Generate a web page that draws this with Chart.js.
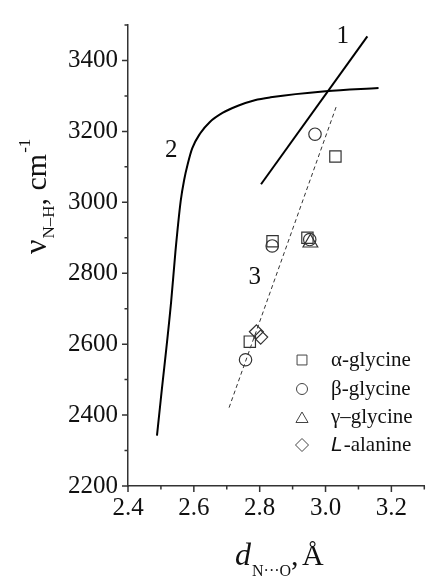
<!DOCTYPE html>
<html>
<head>
<meta charset="utf-8">
<script src="https://cdn.jsdelivr.net/npm/chart.js@4.4.0/dist/chart.umd.min.js"></script>
<style>
html, body { margin: 0; padding: 0; background: #fff; }
</style>
</head>
<body>
<canvas id="graficoNH" width="434" height="576"></canvas>
<script>
// curva 1, 2 (lineas continuas) y 3 (ajuste punteado)
var curva1X = [2.804, 3.127];
var curva1Y = [3051, 3468];
var curva2X = [2.488, 2.499, 2.531, 2.544, 2.560, 2.5705, 2.582, 2.595, 2.619, 2.648, 2.687, 2.736, 2.785, 2.833, 3.000, 3.161];
var curva2Y = [2342, 2439, 2719, 2860, 3003, 3063, 3110, 3152, 3194, 3226, 3252, 3273, 3288, 3296, 3313, 3322];
var curva3X = [2.707, 3.033];
var curva3Y = [2421, 3271];

// puntos experimentales
var alfaX = [2.770, 2.839, 2.945, 3.030];
var alfaY = [2607, 2890, 2900, 3129];
var betaX = [2.757, 2.838, 2.952, 2.968];
var betaY = [2556, 2877, 2895, 3192];
var gammaX = [2.954];
var gammaY = [2886];
var alaninaX = [2.790, 2.803];
var alaninaY = [2635, 2620];

var etiquetasLeyenda = ['α-glycine', 'β-glycine', 'γ–glycine', '-alanine'];
var ticksX = [2.4, 2.6, 2.8, 3.0, 3.2];
var ticksY = [2200, 2400, 2600, 2800, 3000, 3200, 3400];

// numeros de las curvas, en coordenadas de datos
var numCurvas = ['1', '2', '3'];
var numCurvasX = [3.052, 2.531, 2.785];
var numCurvasY = [3468, 3147, 2788];

var SERIF = '"Liberation Serif", "Times New Roman", serif';

function puntos(xs, ys) {
    return xs.map(function (x, i) { return { x: x, y: ys[i] }; });
}

function esMayor(valor, lista) {
    return lista.some(function (v) { return Math.abs(v - valor) < 1e-6; });
}

// marcas de los ejes: largas en las etiquetas, cortas en el resto
var pluginMarcas = {
    id: 'marcas',
    afterDraw: function (chart) {
        var ctx = chart.ctx;
        var sx = chart.scales.x, sy = chart.scales.y;
        var area = chart.chartArea;
        ctx.save();
        ctx.strokeStyle = '#333';
        ctx.lineWidth = 1.5;
        ctx.beginPath();
        sx.ticks.forEach(function (t) {
            var px = sx.getPixelForValue(t.value);
            var largo = esMayor(t.value, ticksX) ? 6 : 3.5;
            ctx.moveTo(px, area.bottom);
            ctx.lineTo(px, area.bottom + largo);
        });
        sy.ticks.forEach(function (t) {
            var py = sy.getPixelForValue(t.value);
            var largo = esMayor(t.value, ticksY) ? 6 : 3.5;
            ctx.moveTo(area.left, py);
            ctx.lineTo(area.left - largo, py);
        });
        ctx.stroke();
        ctx.restore();
    }
};

// titulos de los ejes con subindices
var pluginTitulos = {
    id: 'titulos',
    afterDraw: function (chart) {
        var ctx = chart.ctx;
        ctx.save();
        ctx.fillStyle = '#111';
        ctx.textBaseline = 'alphabetic';

        // eje y (rotado)
        ctx.save();
        ctx.translate(46, 254);
        ctx.rotate(-Math.PI / 2);
        var x = 0;
        ctx.font = '32px ' + SERIF;
        ctx.fillText('ν', x, 0);
        x += ctx.measureText('ν').width + 1;
        ctx.font = '17px ' + SERIF;
        ctx.fillText('N–H', x, 8);
        x += ctx.measureText('N–H').width;
        ctx.font = '30px ' + SERIF;
        ctx.fillText(', cm', x, 0);
        x += ctx.measureText(', cm').width + 1;
        ctx.font = '17px ' + SERIF;
        ctx.fillText('-1', x, -16);
        ctx.restore();

        // eje x
        var xx = 235;
        ctx.font = 'italic 32px ' + SERIF;
        ctx.fillText('d', xx, 565);
        xx += ctx.measureText('d').width + 1;
        ctx.font = '16px ' + SERIF;
        ctx.fillText('N···O', xx, 576);
        xx += ctx.measureText('N···O').width;
        ctx.font = '30px ' + SERIF;
        ctx.fillText(',', xx, 565);
        ctx.fillText('Å', xx + 11, 565);
        ctx.restore();
    }
};

// numeros de curva y leyenda dentro del area
var pluginLeyenda = {
    id: 'leyenda',
    afterDatasetsDraw: function (chart) {
        var ctx = chart.ctx;
        var sx = chart.scales.x, sy = chart.scales.y;
        ctx.save();
        ctx.fillStyle = '#111';
        ctx.font = '25px ' + SERIF;
        ctx.textAlign = 'center';
        ctx.textBaseline = 'middle';
        numCurvas.forEach(function (n, i) {
            ctx.fillText(n, sx.getPixelForValue(numCurvasX[i]), sy.getPixelForValue(numCurvasY[i]));
        });

        var estilos = [
            { pointStyle: 'rect', radius: 7 },
            { pointStyle: 'circle', radius: 5.5 },
            { pointStyle: 'triangle', radius: 7 },
            { pointStyle: 'rectRot', radius: 6.5 }
        ];
        var yFila = [360, 389, 417, 445];
        ctx.textAlign = 'left';
        ctx.textBaseline = 'middle';
        estilos.forEach(function (e, i) {
            ctx.strokeStyle = '#444';
            ctx.fillStyle = 'rgba(0,0,0,0)';
            ctx.lineWidth = 1;
            Chart.helpers.drawPoint(ctx, { pointStyle: e.pointStyle, radius: e.radius, rotation: 0, borderWidth: 1 }, 302, yFila[i] + (e.pointStyle === 'triangle' ? 2 : 0));
            ctx.fillStyle = '#111';
            var tx = 331;
            if (i === 3) {
                ctx.font = 'italic 21px "Liberation Sans", Arial, sans-serif';
                ctx.fillText('L', tx, yFila[i]);
                tx += ctx.measureText('L').width + 1;
            }
            ctx.font = '21px ' + SERIF;
            ctx.fillText(etiquetasLeyenda[i], tx, yFila[i]);
        });
        ctx.restore();
    }
};

function serieLinea(xs, ys, dash, ancho, color) {
    return {
        data: puntos(xs, ys),
        showLine: true,
        borderColor: color,
        borderWidth: ancho,
        borderDash: dash,
        pointRadius: 0,
        fill: false,
        cubicInterpolationMode: 'monotone'
    };
}

function seriePuntos(xs, ys, estilo, radio) {
    return {
        data: puntos(xs, ys),
        showLine: false,
        pointStyle: estilo,
        pointRadius: radio,
        pointBorderColor: '#333',
        pointBackgroundColor: 'rgba(0,0,0,0)',
        pointBorderWidth: 1.2
    };
}

var ctx = document.getElementById('graficoNH').getContext('2d');
var chart = new Chart(ctx, {
    type: 'scatter',
    data: {
        datasets: [
            serieLinea(curva1X, curva1Y, [], 2, '#000'),
            serieLinea(curva2X, curva2Y, [], 2, '#000'),
            serieLinea(curva3X, curva3Y, [4, 3], 1, '#333'),
            seriePuntos(alfaX, alfaY, 'rect', 8),
            seriePuntos(betaX, betaY, 'circle', 6.2),
            seriePuntos(gammaX, gammaY, 'triangle', 8.5),
            seriePuntos(alaninaX, alaninaY, 'rectRot', 7)
        ]
    },
    options: {
        responsive: false,
        animation: false,
        devicePixelRatio: 1,
        layout: { padding: { top: 20, right: -3, left: 0, bottom: 0 } },
        plugins: {
            legend: { display: false },
            tooltip: { enabled: false }
        },
        scales: {
            x: {
                type: 'linear',
                min: 2.4,
                max: 3.3,
                grid: { display: false, drawTicks: false },
                border: { display: true, color: '#333', width: 1.5 },
                ticks: {
                    stepSize: 0.1,
                    autoSkip: false,
                    maxRotation: 0,
                    padding: 7,
                    color: '#111',
                    font: { family: SERIF, size: 25 },
                    callback: function (v) { return esMayor(v, ticksX) ? v.toFixed(1) : ''; }
                },
                afterFit: function (scale) { scale.height = 90; }
            },
            y: {
                type: 'linear',
                min: 2200,
                max: 3500,
                grid: { display: false, drawTicks: false },
                border: { display: true, color: '#333', width: 1.5 },
                ticks: {
                    stepSize: 100,
                    autoSkip: false,
                    padding: 10,
                    color: '#111',
                    font: { family: SERIF, size: 25 },
                    callback: function (v) { return esMayor(v, ticksY) ? String(v) : ''; }
                },
                afterFit: function (scale) { scale.width = 128; }
            }
        }
    },
    plugins: [pluginMarcas, pluginTitulos, pluginLeyenda]
});
</script>
</body>
</html>
